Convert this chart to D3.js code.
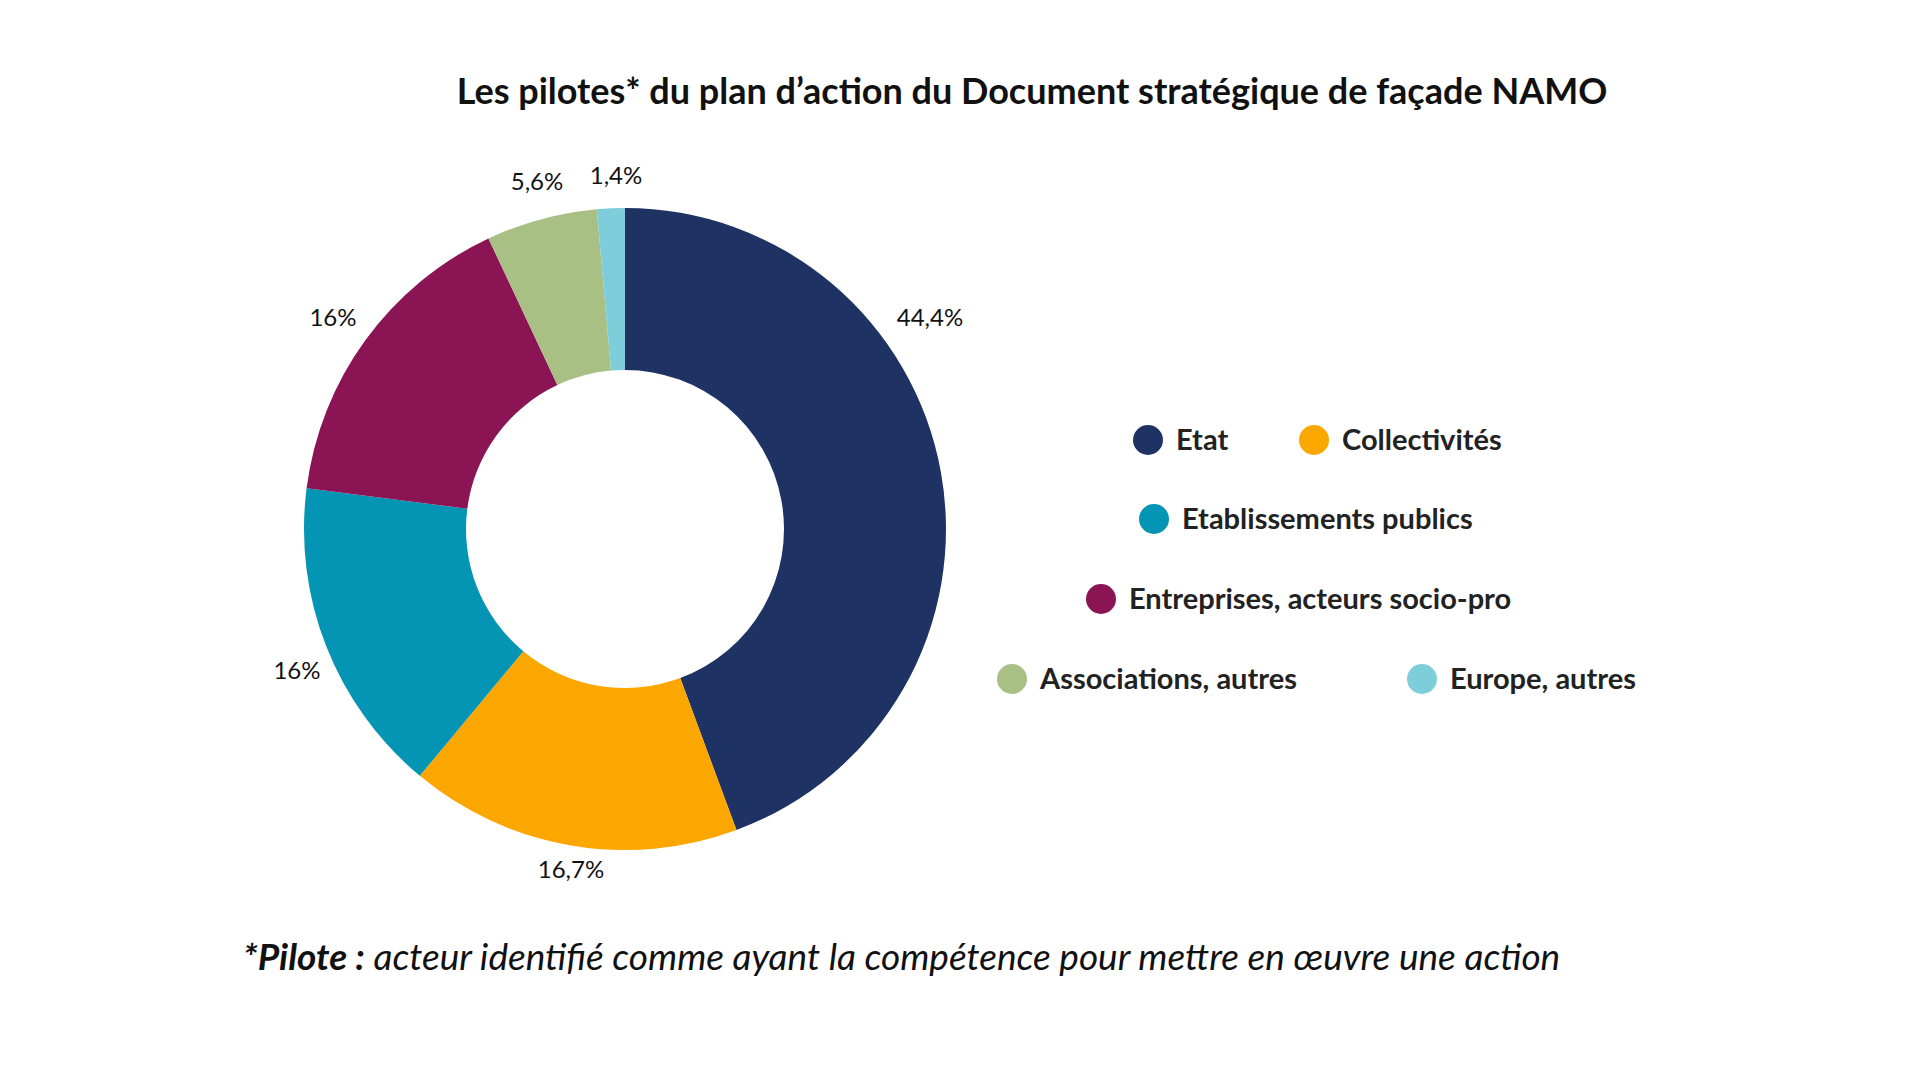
<!DOCTYPE html>
<html><head><meta charset="utf-8">
<script src="https://cdn.jsdelivr.net/npm/d3@7"></script>
<style>body{margin:0;background:#fff}svg{display:block}text{font-family:Lato,"Open Sans",sans-serif}</style>
</head><body>
<svg id="c" width="1920" height="1080"></svg>
<script>
const categories = ["Etat","Collectivités","Etablissements publics","Entreprises, acteurs socio-pro","Associations, autres","Europe, autres"];
const values = [44.4,16.7,16,16,5.6,1.4];
const labels = ["44,4%","16,7%","16%","16%","5,6%","1,4%"];
const colors = ["#1e3364","#fca600","#0494b4","#8a1454","#a8c084","#7ecddb"];
const labelPos = [[930,326],[571,878],[297,679],[333,326],[537,190],[616,184]];
const legendRows = [[0,1],[2],[3],[4,5]];
const legendPos = [[[1148,440],[1314,440]],[[1154,519]],[[1101,599]],[[1012,679],[1422,679]]];

const svg = d3.select("#c");
svg.append("text").attr("x",1032).attr("y",104).attr("text-anchor","middle")
  .attr("font-size",36).attr("font-weight",700).attr("fill","#111")
  .text("Les pilotes* du plan d’action du Document stratégique de façade NAMO");

const cx=625, cy=529;
const pie = d3.pie().sort(null).value(d=>d);
const arc = d3.arc().innerRadius(159).outerRadius(321);
const g = svg.append("g").attr("transform",`translate(${cx},${cy})`);
g.selectAll("path").data(pie(values)).join("path").attr("d",arc).attr("fill",(d,i)=>colors[i]);

svg.selectAll("text.lbl").data(labels).join("text").attr("class","lbl")
  .attr("x",(d,i)=>labelPos[i][0]).attr("y",(d,i)=>labelPos[i][1])
  .attr("text-anchor","middle").attr("font-size",24).attr("fill","#111").text(d=>d);

legendRows.forEach((row,r)=>row.forEach((ci,k)=>{
  const [x,y]=legendPos[r][k];
  svg.append("circle").attr("cx",x).attr("cy",y).attr("r",15).attr("fill",colors[ci]);
  svg.append("text").attr("x",x+28).attr("y",y+10).attr("font-size",29).attr("font-weight",700)
    .attr("fill","#222").text(categories[ci]);
}));

const f = svg.append("text").attr("x",243).attr("y",970).attr("font-size",37).attr("font-style","italic").attr("fill","#111");
f.append("tspan").attr("font-weight",700).text("*Pilote :");
f.append("tspan").text(" acteur identifié comme ayant la compétence pour mettre en œuvre une action");
</script>
</body></html>
